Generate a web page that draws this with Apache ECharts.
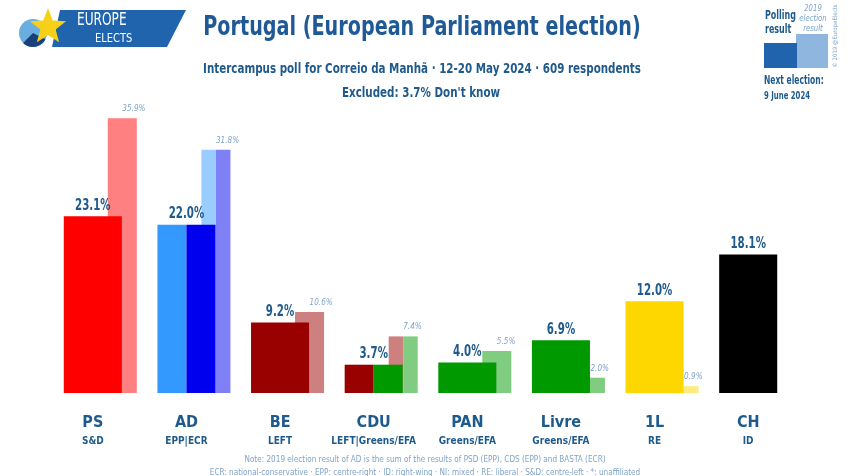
<!DOCTYPE html>
<html><head><meta charset="utf-8">
<script src="https://cdn.jsdelivr.net/npm/echarts@6/dist/echarts.min.js"></script>
<style>html,body{margin:0;padding:0;background:#fff}#c{width:850px;height:476px}</style>
</head><body><div id="c"></div><script>
const FONT = '"DejaVu Sans Condensed","DejaVu Sans",sans-serif';
const DARK = '#1f5a8c';
const LIGHT = '#7fa3c8';

const categories = ['PS', 'AD', 'BE', 'CDU', 'PAN', 'Livre', '1L', 'CH'];
const groups = ['S&D', 'EPP|ECR', 'LEFT', 'LEFT|Greens/EFA', 'Greens/EFA', 'Greens/EFA', 'RE', 'ID'];
const poll = [23.1, 22.0, 9.2, 3.7, 4.0, 6.9, 12.0, 18.1];
const prev2019 = [35.9, 31.8, 10.6, 7.4, 5.5, 2.0, 0.9, null];
const pollColors = [['#ff0000'], ['#3399ff', '#0000ee'], ['#990000'], ['#990000', '#009900'], ['#009900'], ['#009900'], ['#ffd700'], ['#000000']];
const prevColors = [['#ff8080'], ['#99ccff', '#8080f6'], ['#cc8080'], ['#cc8080', '#80cc80'], ['#80cc80'], ['#80cc80'], ['#ffeb80'], []];

const pollData = poll.map((v, i) => [i, v]);
const prevData = prev2019.map((v, i) => [i, v]).filter(d => d[1] != null);

function renderPoll(params, api) {
  const i = api.value(0), v = api.value(1);
  const base = api.coord([i, 0]), top = api.coord([i, v]);
  const bw = api.size([1, 0])[0];
  const W = bw * 0.62, x0 = base[0] - W / 2;
  const cols = pollColors[i], n = cols.length;
  const children = cols.map((c, k) => ({
    type: 'rect',
    shape: { x: x0 + k * W / n, y: top[1], width: W / n, height: base[1] - top[1] },
    style: { fill: c }
  }));
  children.push({
    type: 'text', x: base[0], y: top[1] - 3, scaleX: 0.76,
    style: { text: v.toFixed(1) + '%', x: 0, y: 0, align: 'center', verticalAlign: 'bottom',
      fontFamily: FONT, fontSize: 15, fontWeight: 'bold', fill: DARK }
  });
  return { type: 'group', children };
}

function renderPrev(params, api) {
  const i = api.value(0), v = api.value(1);
  const base = api.coord([i, 0]), top = api.coord([i, v]);
  const bw = api.size([1, 0])[0];
  const W = bw * 0.31, x0 = base[0] + bw * 0.16;
  const cols = prevColors[i], n = cols.length;
  const children = cols.map((c, k) => ({
    type: 'rect',
    shape: { x: x0 + k * W / n, y: top[1], width: W / n, height: base[1] - top[1] },
    style: { fill: c }
  }));
  children.push({
    type: 'text', x: x0 + W / 2, y: top[1] - 5, scaleX: 0.9,
    style: { text: v.toFixed(1) + '%', x: 0, y: 0, align: 'left', verticalAlign: 'bottom',
      fontFamily: FONT, fontSize: 9, fontStyle: 'italic', fill: LIGHT }
  });
  return { type: 'group', children };
}

function star(cx, cy, R, r) {
  const pts = [];
  for (let k = 0; k < 10; k++) {
    const a = -Math.PI / 2 + k * Math.PI / 5;
    const rr = k % 2 ? r : R;
    pts.push([cx + rr * Math.cos(a), cy + rr * Math.sin(a)]);
  }
  return pts;
}

function txt(x, y, text, size, opts) {
  opts = opts || {};
  return {
    type: 'text', x: x, y: y, scaleX: opts.sx || 1, rotation: opts.rot || 0,
    style: { text: text, x: 0, y: 0, align: opts.align || 'left', verticalAlign: opts.va || 'middle',
      lineHeight: opts.lh, fontFamily: FONT, fontSize: size, fontWeight: opts.bold ? 'bold' : 'normal',
      fontStyle: opts.italic ? 'italic' : 'normal', fill: opts.fill || DARK }
  };
}

const chart = echarts.init(document.getElementById('c'));
chart.setOption({
  animation: false,
  backgroundColor: '#ffffff',
  grid: { left: 46, right: 55, top: 87, bottom: 83 },
  xAxis: {
    type: 'category',
    data: categories,
    axisLine: { show: false }, axisTick: { show: false },
    axisLabel: {
      interval: 0,
      margin: 20,
      formatter: (val, idx) => '{a|' + val + '}\n{b|' + groups[idx] + '}',
      rich: {
        a: { fontFamily: FONT, fontSize: 16, fontWeight: 'bold', color: DARK, lineHeight: 20 },
        b: { fontFamily: FONT, fontSize: 10, fontWeight: 'bold', color: DARK, lineHeight: 16 }
      }
    }
  },
  yAxis: { type: 'value', min: 0, max: 40, show: false, splitLine: { show: false } },
  series: [
    { type: 'custom', data: prevData, renderItem: renderPrev, z: 1 },
    { type: 'custom', data: pollData, renderItem: renderPoll, z: 2 }
  ],
  graphic: [
    // logo
    { type: 'polygon', shape: { points: [[60, 10], [186, 10], [167, 47], [52, 47]] }, style: { fill: '#1f64ad' } },
    { type: 'circle', shape: { cx: 33, cy: 33, r: 14 }, style: { fill: '#6aaee0' } },
    { type: 'sector', shape: { cx: 33, cy: 33, r: 14, r0: 0, startAngle: Math.PI * 0.15, endAngle: Math.PI * 0.75 }, style: { fill: '#1b3f7a' } },
    { type: 'polygon', shape: { points: star(48, 27, 19, 8) }, style: { fill: '#f7d117' } },
    txt(77, 20, 'EUROPE', 18, { sx: 0.75, fill: '#fff' }),
    txt(95, 39, 'ELECTS', 13, { sx: 0.85, fill: '#fff' }),
    // titles
    txt(422, 28, 'Portugal (European Parliament election)', 26, { sx: 0.82, align: 'center', bold: true, fill: '#1f5a96' }),
    txt(422, 69, 'Intercampus poll for Correio da Manhã · 12-20 May 2024 · 609 respondents', 14, { sx: 0.82, align: 'center', bold: true }),
    txt(421, 93, "Excluded: 3.7% Don't know", 14, { sx: 0.82, align: 'center', bold: true }),
    // legend top right
    txt(765, 9, 'Polling\nresult', 12, { sx: 0.74, va: 'top', lh: 14, bold: true }),
    txt(813, 4, '2019\nelection\nresult', 9, { sx: 0.85, va: 'top', align: 'center', lh: 10, italic: true, fill: LIGHT }),
    { type: 'rect', shape: { x: 796, y: 34, width: 32, height: 34 }, style: { fill: '#8fb6de' } },
    { type: 'rect', shape: { x: 764, y: 43, width: 33, height: 25 }, style: { fill: '#1f64ad' } },
    txt(835, 36, '© 2019 @EuropeElects', 6, { rot: Math.PI / 2, align: 'center', fill: LIGHT }),
    txt(764, 81, 'Next election:', 12, { sx: 0.7, bold: true }),
    txt(764, 96, '9 June 2024', 10, { sx: 0.77, bold: true }),
    // notes
    txt(425, 460, 'Note: 2019 election result of AD is the sum of the results of PSD (EPP), CDS (EPP) and BASTA (ECR)', 9, { sx: 0.9, align: 'center', fill: LIGHT }),
    txt(425, 473, 'ECR: national-conservative · EPP: centre-right · ID: right-wing · NI: mixed · RE: liberal · S&D: centre-left · *: unaffiliated', 9, { sx: 0.9, align: 'center', fill: LIGHT })
  ]
});
</script></body></html>
